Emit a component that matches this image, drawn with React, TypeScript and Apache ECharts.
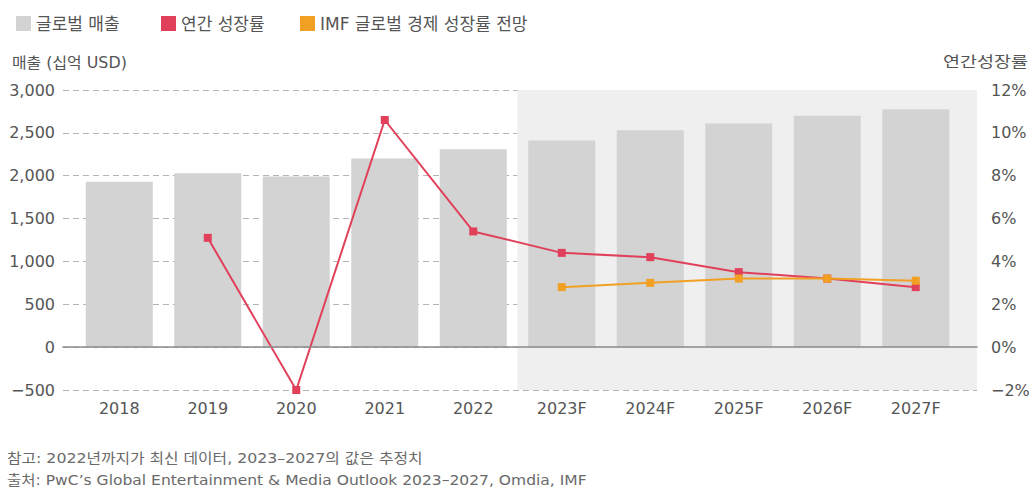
import React, { useEffect, useRef } from "react";
import * as echarts from "echarts";

const categories = ["2018", "2019", "2020", "2021", "2022", "2023F", "2024F", "2025F", "2026F", "2027F"];
const revenue = [1930, 2030, 1990, 2200, 2310, 2410, 2530, 2610, 2700, 2775];
const growth = [null, 5.1, -2.0, 10.6, 5.4, 4.4, 4.2, 3.5, 3.2, 2.8];
const imfGrowth = [null, null, null, null, null, 2.8, 3.0, 3.2, 3.2, 3.1];
const legendNames = ["글로벌 매출", "연간 성장률", "IMF 글로벌 경제 성장률 전망"];
const forecastStartIndex = 4.5;

const W = 1033;
const H = 488;
const FONT = "'DejaVu Sans', 'Noto Sans CJK KR', sans-serif";
const OUTER = { left: 63, right: 977, top: 90, bottom: 390 };
const INNER = { left: 75, right: 960 };

function fitScale(text: string, size: number, target: number) {
  const c = document.createElement("canvas").getContext("2d");
  if (!c) return 1;
  c.font = `${size}px ${FONT}`;
  const w = c.measureText(text).width;
  return w > 0 ? target / w : 1;
}

export default function App() {
  const ref = useRef<HTMLDivElement>(null);
  useEffect(() => {
    if (!ref.current) return;
    const chart = echarts.init(ref.current, null, { renderer: "svg" });
    const catW = (INNER.right - INNER.left) / categories.length;
    const xmin = (OUTER.left - INNER.left) / catW - 0.5;
    const xmax = (OUTER.right - INNER.left) / catW - 0.5;
    const textColor = "#555555";
    const noteColor = "#6a6a6a";
    const red = "#e0405a";
    const orange = "#f2a024";

    const label = (text: string, x: number, y: number, size: number, width: number, color: string, align = "left") => ({
      type: "text",
      x,
      y,
      scaleX: fitScale(text, size, width),
      style: { text, fontSize: size, fill: color, fontFamily: FONT, textAlign: align, textVerticalAlign: "middle" },
    });

    const legendBase = {
      top: 10,
      icon: "rect",
      itemWidth: 15,
      itemHeight: 15,
      textStyle: { fontSize: 17, color: textColor, fontFamily: FONT },
    };

    chart.setOption({
      animation: false,
      textStyle: { fontFamily: FONT },
      legend: [
        { ...legendBase, left: 11, data: [legendNames[0]] },
        { ...legendBase, left: 156, data: [legendNames[1]] },
        { ...legendBase, left: 295, data: [legendNames[2]] },
      ],
      grid: [
        { left: OUTER.left, width: OUTER.right - OUTER.left, top: OUTER.top, height: OUTER.bottom - OUTER.top },
        { left: INNER.left, width: INNER.right - INNER.left, top: OUTER.top, height: OUTER.bottom - OUTER.top },
      ],
      xAxis: [
        {
          type: "value",
          gridIndex: 0,
          min: xmin,
          max: xmax,
          z: 5,
          axisLine: { show: true, onZero: true, lineStyle: { color: "#8a8a8a", width: 1.5 } },
          axisTick: { show: false },
          axisLabel: { show: false },
          splitLine: { show: false },
        },
        {
          type: "category",
          gridIndex: 1,
          data: categories,
          axisLine: { show: false },
          axisTick: { show: false },
          axisLabel: { color: textColor, fontSize: 16, margin: 10, fontFamily: FONT },
        },
      ],
      yAxis: [
        {
          type: "value",
          gridIndex: 0,
          min: -500,
          max: 3000,
          interval: 500,
          z: 1,
          axisLine: { show: false },
          axisTick: { show: false },
          axisLabel: {
            color: textColor,
            fontSize: 16,
            margin: 8,
            fontFamily: FONT,
            formatter: (v: number) => (v < 0 ? "−" + Math.abs(v) : v.toLocaleString("en-US")),
          },
          splitLine: { show: true, lineStyle: { color: "#b5b5b5", type: [6, 4], width: 1 } },
        },
        {
          type: "value",
          gridIndex: 0,
          position: "right",
          min: -2,
          max: 12,
          interval: 2,
          axisLine: { show: false },
          axisTick: { show: false },
          axisLabel: {
            color: textColor,
            fontSize: 16,
            margin: 14,
            fontFamily: FONT,
            formatter: (v: number) => (v < 0 ? "−" + Math.abs(v) : v) + "%",
          },
          splitLine: { show: false },
        },
        { type: "value", gridIndex: 1, min: -500, max: 3000, show: false, splitLine: { show: false } },
        { type: "value", gridIndex: 1, min: -2, max: 12, show: false, splitLine: { show: false } },
      ],
      graphic: [
        label("매출 (십억 USD)", 12, 63, 15, 115, textColor),
        label("연간성장률", 1028, 62, 15, 85, textColor, "right"),
        label("참고: 2022년까지가 최신 데이터, 2023–2027의 값은 추정치", 7, 458, 14, 416, noteColor),
        label("출처: PwC’s Global Entertainment & Media Outlook 2023–2027, Omdia, IMF", 7, 480, 14, 580, noteColor),
      ],
      series: [
        {
          name: "forecast-area",
          type: "line",
          xAxisIndex: 0,
          yAxisIndex: 0,
          data: [],
          z: 0,
          silent: true,
          markArea: {
            silent: true,
            itemStyle: { color: "#efefef" },
            data: [[{ xAxis: forecastStartIndex }, { xAxis: "max" }]],
          },
        },
        {
          name: legendNames[0],
          type: "bar",
          xAxisIndex: 1,
          yAxisIndex: 2,
          data: revenue,
          barWidth: 67,
          itemStyle: { color: "#d3d3d3" },
          z: 2,
        },
        {
          name: legendNames[1],
          type: "line",
          xAxisIndex: 1,
          yAxisIndex: 3,
          data: growth,
          symbol: "rect",
          symbolSize: 8,
          lineStyle: { color: red, width: 2 },
          itemStyle: { color: red },
          z: 3,
        },
        {
          name: legendNames[2],
          type: "line",
          xAxisIndex: 1,
          yAxisIndex: 3,
          data: imfGrowth,
          symbol: "rect",
          symbolSize: 8,
          lineStyle: { color: orange, width: 2 },
          itemStyle: { color: orange },
          z: 4,
        },
      ],
    });
    return () => chart.dispose();
  }, []);
  return (
    <div
      ref={ref}
      style={{ position: "fixed", left: 0, top: 0, width: W, height: H, background: "#fff" }}
    />
  );
}
